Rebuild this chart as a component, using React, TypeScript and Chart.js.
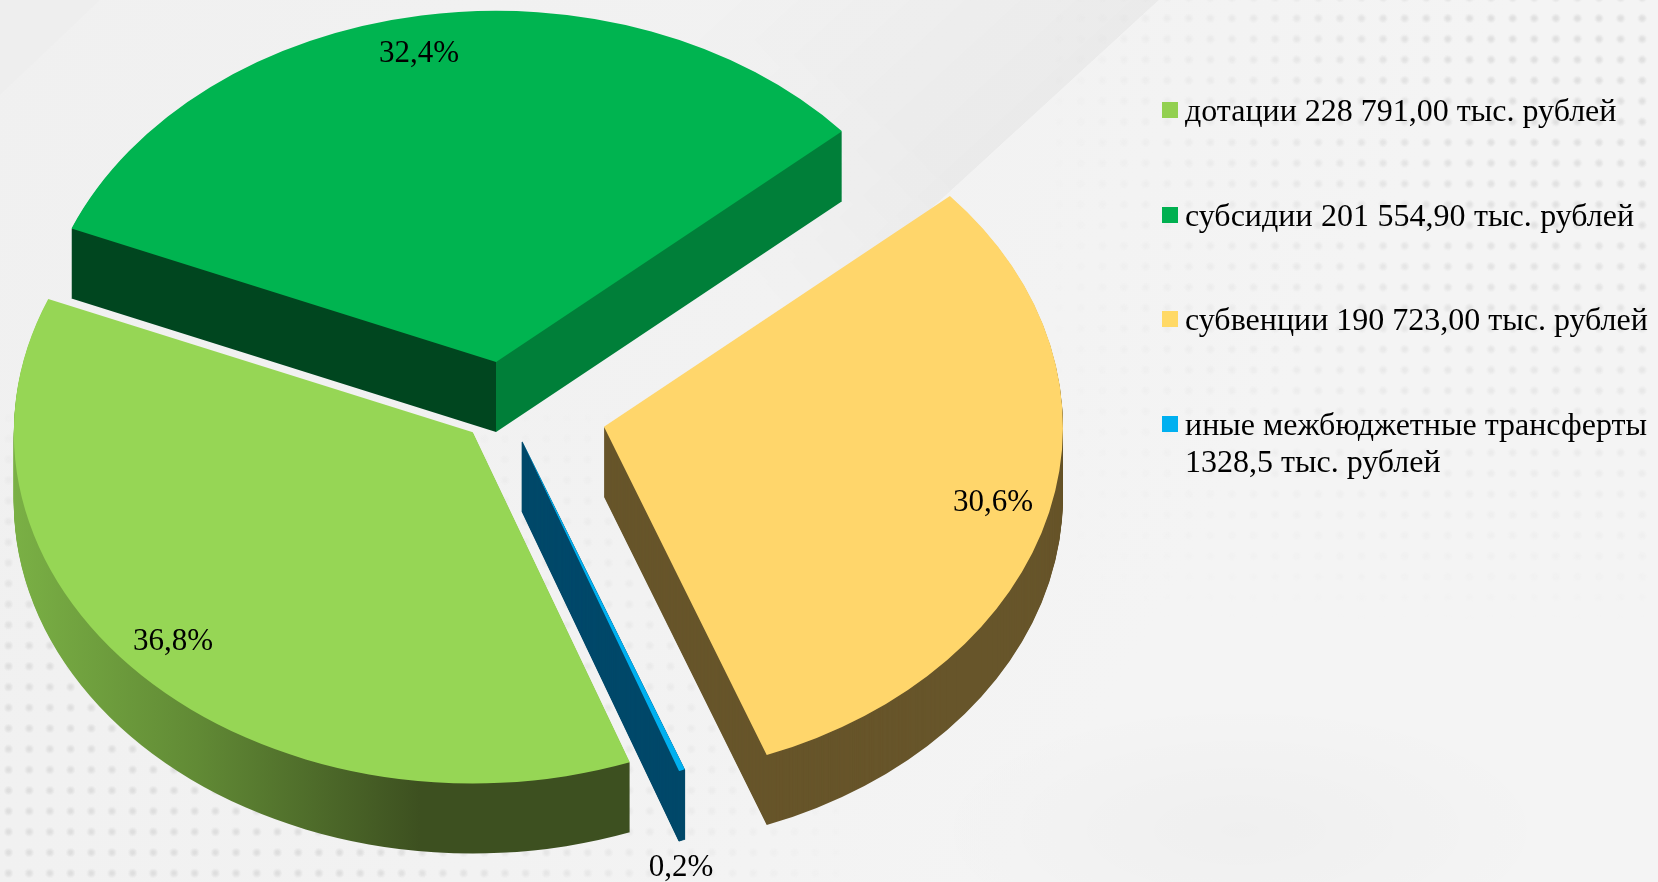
import React, { useEffect, useRef } from "react";
import { Chart, registerables } from "chart.js";

Chart.register(...registerables);

const categories = ["дотации", "субсидии", "субвенции", "иные межбюджетные трансферты"];
const values = [228791.0, 201554.9, 190723.0, 1328.5];
const percentLabels = ["36,8%", "32,4%", "30,6%", "0,2%"];
const legendLines = [
  ["дотации 228 791,00 тыс. рублей"],
  ["субсидии 201 554,90 тыс. рублей"],
  ["субвенции 190 723,00 тыс. рублей"],
  ["иные межбюджетные трансферты", "1328,5 тыс. рублей"],
];
const legendWordSpacing = [0, 0.5, 0, 0];
const legendSwatches = ["#92d050", "#00b050", "#ffd966", "#00b0f0"];
const topColors = ["#96d655", "#00b450", "#ffd66b", "#00b0f0"];
const explode = [46, 61, 101, 46];
const labelCentres = [
  [173, 642],
  [419, 54],
  [993, 503],
  [681, 868],
];

const ROTATION = 160;
const RADIUS = 459;
const SQUASH = 0.765;
const DEPTH = 70;
const CX = 506;
const CY = 408;
const FONT = '"Liberation Serif", "Times New Roman", serif';

function sideFill(ctx: CanvasRenderingContext2D, i: number, arc: any) {
  if (i === 0) {
    const g = ctx.createLinearGradient(14, 0, 420, 0);
    g.addColorStop(0, "#7ab045");
    g.addColorStop(0.45, "#618a35");
    g.addColorStop(1, "#3d5020");
    return g;
  }
  if (i === 1) {
    const g = ctx.createLinearGradient(0, 0, 1658, 0);
    const s = arc.x / 1658;
    g.addColorStop(0, "#00461f");
    g.addColorStop(s, "#00461f");
    g.addColorStop(s, "#007f39");
    g.addColorStop(1, "#007f39");
    return g;
  }
  return i === 2 ? "#67552a" : "#00496a";
}

const pie3d = {
  id: "pie3d",
  afterDatasetsUpdate(chart: any) {
    const arcs = chart.getDatasetMeta(0).data;
    arcs.forEach((arc: any, i: number) => {
      const mid = (arc.startAngle + arc.endAngle) / 2;
      arc.x = CX + Math.cos(mid) * explode[i];
      arc.y = CY + Math.sin(mid) * explode[i];
    });
  },
  beforeDatasetsDraw(chart: any) {
    const { ctx } = chart;
    const arcs = chart.getDatasetMeta(0).data;
    arcs.forEach((arc: any, i: number) => {
      const saved = arc.options;
      const fill = sideFill(ctx, i, arc);
      // The thinnest slice needs a hairline outline or its tip fades out.
      const thin = arc.endAngle - arc.startAngle < 0.1;
      arc.options = {
        ...saved,
        backgroundColor: fill,
        borderColor: fill,
        borderWidth: thin ? 1.2 : 0,
      };
      for (let dy = DEPTH; dy >= 1; dy--) {
        ctx.save();
        ctx.translate(0, CY + dy);
        ctx.scale(1, SQUASH);
        ctx.translate(0, -CY);
        arc.draw(ctx);
        ctx.restore();
      }
      arc.options = saved;
    });
    ctx.save();
    ctx.translate(0, CY);
    ctx.scale(1, SQUASH);
    ctx.translate(0, -CY);
  },
  afterDatasetsDraw(chart: any) {
    const { ctx } = chart;
    ctx.restore();
    ctx.save();
    ctx.fillStyle = "#000";
    ctx.font = `31px ${FONT}`;
    ctx.textAlign = "center";
    ctx.textBaseline = "middle";
    percentLabels.forEach((t, i) => ctx.fillText(t, labelCentres[i][0], labelCentres[i][1]));
    ctx.restore();
  },
};

const dots = (colour: string) =>
  `radial-gradient(circle at center, ${colour} 0, ${colour} 1.5px, transparent 5px)`;

export default function App() {
  const ref = useRef<HTMLCanvasElement | null>(null);
  useEffect(() => {
    const chart = new Chart(ref.current!, {
      type: "pie",
      data: {
        labels: categories,
        datasets: [
          {
            data: values,
            backgroundColor: topColors,
            borderWidth: 0,
            clip: false,
          } as any,
        ],
      },
      options: {
        responsive: false,
        animation: false,
        rotation: ROTATION,
        radius: RADIUS,
        layout: { padding: { right: 1658 - 2 * CX, bottom: 882 - 2 * CY } },
        plugins: { legend: { display: false }, tooltip: { enabled: false } },
      },
      plugins: [pie3d],
    } as any);
    return () => chart.destroy();
  }, []);

  return (
    <div
      style={{
        position: "fixed",
        left: 0,
        top: 0,
        width: 1658,
        height: 882,
        overflow: "hidden",
        background: "linear-gradient(120deg, #f0f0f0 0, #f2f2f2 45%, #f4f4f4 70%, #f4f4f4 100%)",
      }}
    >
      <div
        style={{
          position: "absolute",
          left: 1050 - 300,
          top: 100 - 500,
          width: 300,
          height: 1000,
          transformOrigin: "100% 50%",
          transform: "rotate(47.5deg)",
          background: "linear-gradient(to right, transparent, rgba(0,0,0,0.033))",
          WebkitMaskImage: "linear-gradient(to bottom, #000 0, #000 62%, transparent 85%)",
        } as any}
      />
      <div
        style={{
          position: "absolute",
          inset: 0,
          clipPath: "polygon(0 0, 100px 0, 0 95px)",
          background: "#eeeeee",
        }}
      />
      <div
        style={{
          position: "absolute",
          inset: 0,
          background:
            "radial-gradient(ellipse 320px 130px at 1240px 830px, rgba(0,0,0,0.018), transparent)",
        }}
      />
      <div
        style={{
          position: "absolute",
          left: 1040,
          top: 0,
          width: 618,
          height: 620,
          backgroundImage: dots("#dedede"),
          backgroundSize: "21.6px 20.7px",
          backgroundPosition: "8.4px 8px",
          WebkitMaskImage:
            "linear-gradient(to bottom, #000 0, rgba(0,0,0,.75) 50%, transparent 100%), linear-gradient(to right, transparent 0, rgba(0,0,0,.4) 25%, #000 70%)",
          WebkitMaskComposite: "source-in",
          maskComposite: "intersect",
        } as any}
      />
      <div
        style={{
          position: "absolute",
          left: 0,
          top: 400,
          width: 860,
          height: 482,
          backgroundImage: dots("#dedede"),
          backgroundSize: "20.7px 20.7px",
          backgroundPosition: "-1.85px 7.75px",
          WebkitMaskImage:
            "linear-gradient(to bottom, transparent 0, #000 55%), linear-gradient(to right, #000 0, #000 40%, transparent 100%)",
          WebkitMaskComposite: "source-in",
          maskComposite: "intersect",
        } as any}
      />
      <canvas
        ref={ref}
        width={1658}
        height={882}
        style={{ position: "absolute", left: 0, top: 0, width: 1658, height: 882 }}
      />
      {legendLines.map((lines, i) => (
        <div key={i}>
          <div
            style={{
              position: "absolute",
              left: 1162,
              top: 102 + i * 104.7,
              width: 16,
              height: 16,
              background: legendSwatches[i],
            }}
          />
          <div
            style={{
              position: "absolute",
              left: 1185,
              top: 92 + i * 104.5,
              font: `32px/37px ${FONT}`,
              color: "#000",
              whiteSpace: "pre",
              wordSpacing: legendWordSpacing[i],
            }}
          >
            {lines.map((l, j) => (
              <div key={j}>{l}</div>
            ))}
          </div>
        </div>
      ))}
    </div>
  );
}
